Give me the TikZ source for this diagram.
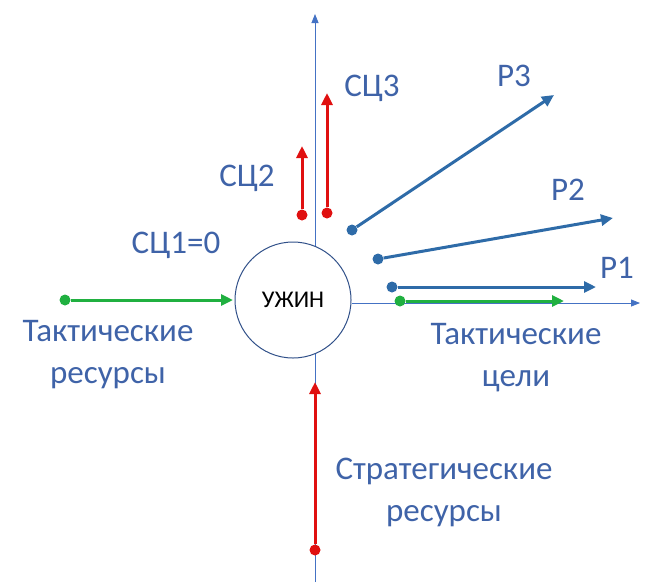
\documentclass[tikz,border=0pt]{standalone}
\usepackage{fontspec}
\setmainfont{Carlito}
\usetikzlibrary{arrows.meta}
\definecolor{ax}{HTML}{4472C4}
\definecolor{bl}{HTML}{2E6BA8}
\definecolor{rd}{HTML}{E01010}
\definecolor{gr}{HTML}{20B040}
\definecolor{tx}{HTML}{3F63A8}
\tikzset{
 axis/.style={ax,line width=0.8pt,-{Triangle[length=9pt,width=7pt]}},
 vec/.style={line width=3pt,-{Triangle[length=12pt,width=11pt]}},
 dot/.style={circle,fill,inner sep=0pt,minimum size=11pt},
 lbl/.style={text=tx,font=\fontsize{33}{42}\selectfont,align=center},
}
\begin{document}
\begin{tikzpicture}[x=1pt,y=-1pt]
\useasboundingbox (0,0) rectangle (668,582);
\coordinate (vb) at (315,582); \coordinate (vt) at (315,14);
\draw[axis] (vb) -- (vt);
\node[circle,draw=ax!70!black,fill=white,line width=1pt,minimum size=116pt,inner sep=0pt,font=\fontsize{24}{28}\selectfont] (c) at (293,300) {УЖИН};
\coordinate (hr) at (640,303);
\draw[axis] (c.east |- hr) -- (hr);
% green
\node[dot,gr] (g1) at (65,300) {}; \coordinate (g1e) at (233,300);
\draw[vec,gr] (g1) -- (g1e);
\node[dot,gr] (g2) at (400,301) {}; \coordinate (g2e) at (564,301);
\draw[vec,gr] (g2) -- (g2e);
% red
\node[dot,rd] (r0) at (315,550) {}; \coordinate (r0e) at (315,382);
\draw[vec,rd] (r0) -- (r0e);
\node[dot,rd] (r2) at (302,215) {}; \coordinate (r2e) at (302,146);
\draw[vec,rd] (r2) -- (r2e);
\node[dot,rd] (r3) at (327,213) {}; \coordinate (r3e) at (327,93);
\draw[vec,rd] (r3) -- (r3e);
% blue
\node[dot,bl] (b3) at (352,230) {}; \coordinate (b3e) at (554,95);
\draw[vec,bl] (b3) -- (b3e);
\node[dot,bl] (b2) at (378,259) {}; \coordinate (b2e) at (613,218);
\draw[vec,bl] (b2) -- (b2e);
\node[dot,bl] (b1) at (392,287) {}; \coordinate (b1e) at (596,287);
\draw[vec,bl] (b1) -- (b1e);
% labels
\node[lbl] (l3) at (372,88) {СЦ3};
\node[lbl] (l2) at (247,178) {СЦ2};
\node[lbl] (l1) at (176,245) {СЦ1=0};
\node[lbl] (p3) at (514,76) {Р3};
\node[lbl] (p2) at (568,190) {Р2};
\node[lbl] (p1) at (617,268) {Р1};
\node[lbl] (tr) at (108,355) {Тактические\\ресурсы};
\node[lbl] (tc) at (516,358) {Тактические\\цели};
\node[lbl] (sr) at (444,492) {Стратегические\\ресурсы};
\end{tikzpicture}
\end{document}
